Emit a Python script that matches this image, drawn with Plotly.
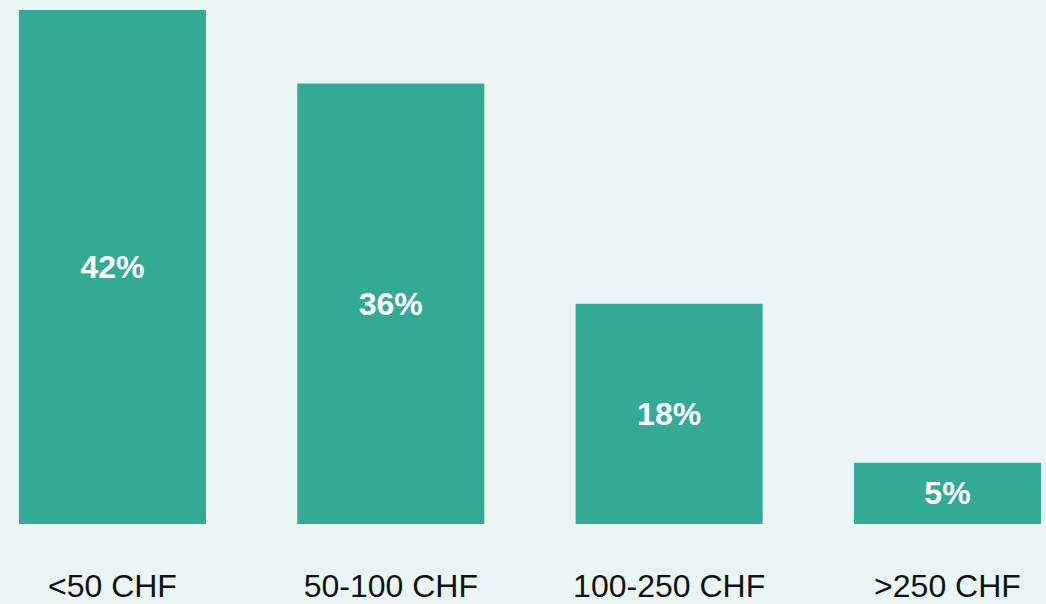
import plotly.graph_objects as go

# Spending brackets and share of respondents in each
categories = ["<50 CHF", "50-100 CHF", "100-250 CHF", ">250 CHF"]
shares = [42, 36, 18, 5]
share_labels = ["42%", "36%", "18%", "5%"]

BAR_COLOR = "#33AA94"
BG_COLOR = "#EAF5F3"

fig = go.Figure(
    go.Bar(
        x=categories,
        y=shares,
        text=share_labels,
        textposition="inside",
        insidetextanchor="middle",
        textfont=dict(family="Liberation Sans, Arial, sans-serif", size=32, color="white", weight="bold"),
        marker=dict(color=BAR_COLOR, line=dict(width=0)),
        hoverinfo="skip",
    )
)

fig.update_layout(
    width=1046,
    height=604,
    margin=dict(l=0, r=0, t=10, b=80),
    paper_bgcolor=BG_COLOR,
    plot_bgcolor=BG_COLOR,
    bargap=0.328,
    showlegend=False,
    font=dict(family="Liberation Sans, Arial, sans-serif", color="#111111"),
)

fig.update_xaxes(
    type="category",
    range=[-0.404, 3.354],
    automargin=False,
    showgrid=False,
    showline=False,
    zeroline=False,
    ticks="",
    tickfont=dict(size=32, color="#111111"),
    ticklabelstandoff=40,
)

fig.update_yaxes(
    range=[0, 42],
    visible=False,
    automargin=False,
    showgrid=False,
    zeroline=False,
)

fig.write_html("out.html")
